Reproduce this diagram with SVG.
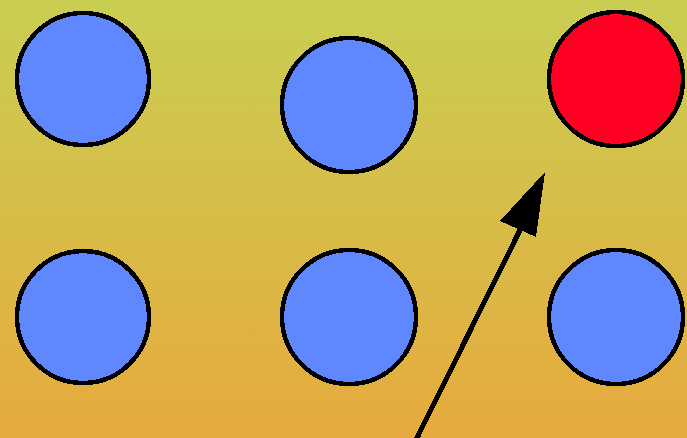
<svg xmlns="http://www.w3.org/2000/svg" width="687" height="438" viewBox="0 0 687 438">
<defs>
<linearGradient id="bg" x1="0" y1="0" x2="0" y2="1">
<stop offset="0" stop-color="#c9ce52"/>
<stop offset="1" stop-color="#e6aa3e"/>
</linearGradient>
<style>
.n{stroke:#000;stroke-width:4.5;shape-rendering:crispEdges}
.b{fill:#5f88ff}
.r{fill:#ff0022}
</style>
</defs>
<rect width="687" height="438" fill="url(#bg)"/>
<g id="n1"><circle class="n b" cx="83" cy="79" r="66"/></g>
<g id="n2"><circle class="n b" cx="349" cy="105" r="67"/></g>
<g id="n3"><circle class="n r" cx="616" cy="79" r="67"/></g>
<g id="n4"><circle class="n b" cx="83" cy="317" r="66"/></g>
<g id="n5"><circle class="n b" cx="349" cy="317" r="67"/></g>
<g id="n6"><circle class="n b" cx="616" cy="317" r="67"/></g>
<g id="connectors">
<line x1="416" y1="440" x2="520" y2="230" stroke="#000" stroke-width="5" shape-rendering="crispEdges"/>
<polygon points="545,172 536,237 500,221" fill="#000" shape-rendering="crispEdges"/>
</g>
</svg>
